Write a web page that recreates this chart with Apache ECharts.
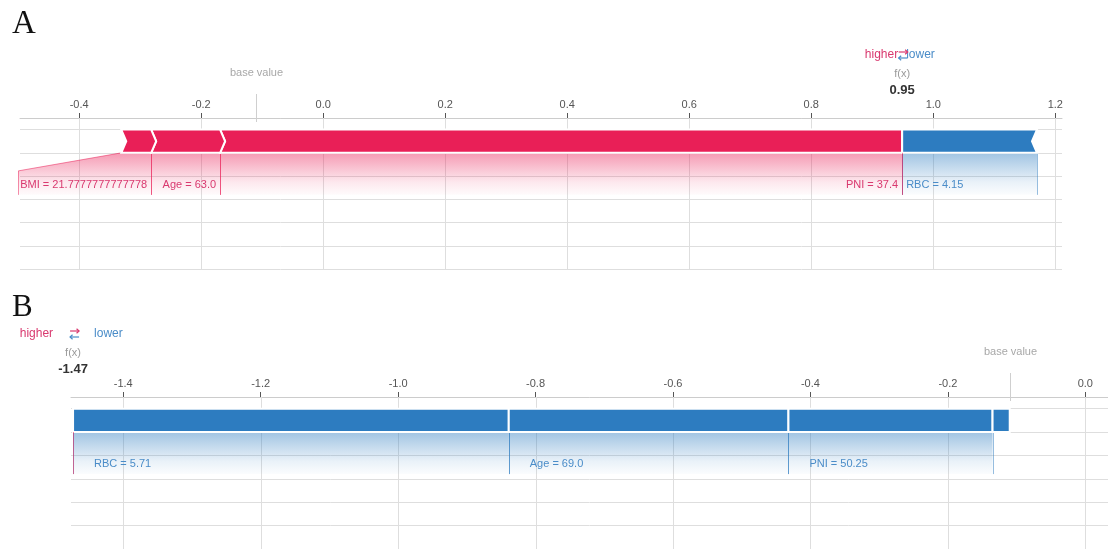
<!DOCTYPE html>
<html>
<head>
<meta charset="utf-8">
<script src="https://cdn.jsdelivr.net/npm/echarts@6/dist/echarts.min.js"></script>
<style>
  html, body { margin: 0; padding: 0; background: #fff; }
  #chart { width: 1108px; height: 549px; }
</style>
</head>
<body>
<div id="chart"></div>
<script>
// ---- Panel A: one patient, prediction pushed higher ----
const featuresA = ['BMI', 'Age', 'PNI', 'RBC'];
const featureValuesA = ['21.7777777777778', '63.0', '37.4', '4.15'];
const shapA = [0.049, 0.113, 1.118, -0.221];
const baseValueA = -0.11;
const ticksA = [-0.4, -0.2, 0.0, 0.2, 0.4, 0.6, 0.8, 1.0, 1.2];

// ---- Panel B: one patient, prediction pushed lower ----
const featuresB = ['RBC', 'Age', 'PNI', ''];
const featureValuesB = ['5.71', '69.0', '50.25', ''];
const shapB = [-0.634, -0.407, -0.297, -0.025];
const baseValueB = -0.11;
const ticksB = [-1.4, -1.2, -1.0, -0.8, -0.6, -0.4, -0.2, 0.0];

const RED = '#e91f57';
const BLUE = '#2d7cc0';
const RED_TXT = '#d9396f';
const BLUE_TXT = '#4a8cc8';
const SANS = '"Liberation Sans", Arial, Helvetica, sans-serif';
const SERIF = '"Liberation Serif", "Times New Roman", serif';
const GRID_LINE = '#dedede';

// row layout on the hidden y axis (0 = bottom of the panel)
const Y_MAX = 6.5;
const BAR_TOP = 6;
const BAR_BOT = 5;
// label area below the bar, in pixels from the bar's bottom edge
const SLANT = 18;
const LABEL_TEXT = 32;
const LABEL_DEPTH = 42;

const measureCtx = document.createElement('canvas').getContext('2d');
function measure(text) {
  measureCtx.font = '11px ' + SANS;
  return measureCtx.measureText(text).width;
}
function rgba(hex, a) {
  const n = parseInt(hex.slice(1), 16);
  return 'rgba(' + (n >> 16) + ',' + ((n >> 8) & 255) + ',' + (n & 255) + ',' + a + ')';
}
function crisp(v) { return Math.round(v) + 0.5; }

// Stack the contributions outward from f(x): positive ones to the left, negative ones to the right,
// largest magnitude closest to f(x).
function buildSegments(shap, base) {
  const fx = base + shap.reduce((s, v) => s + v, 0);
  const order = shap.map((_, i) => i);
  const pos = order.filter(i => shap[i] > 0).sort((a, b) => shap[b] - shap[a]);
  const neg = order.filter(i => shap[i] < 0).sort((a, b) => shap[a] - shap[b]);
  const data = [];
  let edge = fx;
  pos.forEach((i, k) => { data.push([edge - shap[i], edge, 1, i, k === 0 ? 1 : 0]); edge -= shap[i]; });
  edge = fx;
  neg.forEach((i, k) => { data.push([edge, edge - shap[i], -1, i, k === 0 ? 1 : 0]); edge -= shap[i]; });
  return { fx, data };
}

const panels = [
  {
    letter: 'A', letterSize: 33, letterY: 33,
    features: featuresA, values: featureValuesA, shap: shapA, base: baseValueA, ticks: ticksA,
    grid: { left: 20, top: 118, width: 1042, height: 151 },
    xMin: -0.497, xMax: 1.211,
    tip: 5, gap: 2, labelPad: 4,
    legend: { higherRight: -4, arrowX: 1, lowerLeft: 4 }
  },
  {
    letter: 'B', letterSize: 31, letterY: 315,
    features: featuresB, values: featureValuesB, shap: shapB, base: baseValueB, ticks: ticksB,
    grid: { left: 71, top: 397, width: 1037, height: 152 },
    xMin: -1.476, xMax: 0.033,
    tip: 0, gap: 2, labelPad: 21,
    legend: { higherRight: -20, arrowX: 1.5, lowerLeft: 21 }
  }
];

function segmentRenderer(p) {
  return function (params, api) {
    const x0 = api.value(0), x1 = api.value(1), sign = api.value(2), i = api.value(3), atFx = api.value(4);
    const top = api.coord([x0, BAR_TOP])[1];
    const bot = api.coord([x0, BAR_BOT])[1];
    const a = api.coord([x0, 0])[0];
    const b = api.coord([x1, 0])[0];
    const mid = (top + bot) / 2;
    const t = p.tip;
    const pts = sign > 0
      ? [[a, top], [b, top], [b + (atFx ? 0 : t), mid], [b, bot], [a, bot], [a + t, mid]]
      : [[a, top], [b, top], [b - t, mid], [b, bot], [a, bot], [a - (atFx ? 0 : t), mid]];
    const color = sign > 0 ? RED : BLUE;
    const children = [];
    const name = p.features[i];
    if (name) {
      const text = name + ' = ' + p.values[i];
      const w = measure(text);
      const lineEnd = bot + LABEL_DEPTH;
      const textY = bot + LABEL_TEXT;
      let region, lineA, lineB, tx, align;
      if (sign > 0) {
        tx = b - p.labelPad; align = 'right';
        const left = Math.min(a, tx - w - 2);
        const slantY = left < a - 0.5 ? bot + SLANT : bot;
        region = [[a, bot], [b, bot], [b, lineEnd], [left, lineEnd], [left, slantY]];
        lineA = [[a, bot], [crisp(left), slantY], [crisp(left), lineEnd]];
        lineB = [[crisp(b), bot], [crisp(b), lineEnd]];
      } else {
        tx = a + p.labelPad; align = 'left';
        const right = Math.max(b, tx + w + 2);
        const slantY = right > b + 0.5 ? bot + SLANT : bot;
        region = [[a, bot], [b, bot], [right, slantY], [right, lineEnd], [a, lineEnd]];
        lineA = [[crisp(a), bot], [crisp(a), lineEnd]];
        lineB = [[b, bot], [crisp(right), slantY], [crisp(right), lineEnd]];
      }
      children.push({
        type: 'polygon', z2: 1,
        shape: { points: region },
        style: {
          fill: new echarts.graphic.LinearGradient(0, 0, 0, 1, [
            { offset: 0, color: rgba(color, 0.45) },
            { offset: 0.7, color: rgba(color, 0.1) },
            { offset: 1, color: rgba(color, 0.02) }
          ])
        }
      });
      const lineStyle = { stroke: rgba(color, 0.5), lineWidth: 1, fill: null };
      children.push({ type: 'polyline', z2: 2, shape: { points: lineA }, style: lineStyle });
      children.push({ type: 'polyline', z2: 2, shape: { points: lineB }, style: lineStyle });
      children.push({
        type: 'text', z2: 3,
        style: {
          text: text, x: tx, y: textY, align: align, verticalAlign: 'middle',
          fill: sign > 0 ? RED_TXT : BLUE_TXT, fontSize: 11, fontFamily: SANS
        }
      });
    }
    children.push({
      type: 'polygon', z2: 5,
      shape: { points: pts },
      style: { fill: color, stroke: '#ffffff', lineWidth: p.gap, lineJoin: 'miter' }
    });
    return { type: 'group', children: children };
  };
}

// small "⇄" mark: red arrow to the right above, blue arrow to the left below
function swapArrows(cx, cy) {
  const h = 4.5;
  const ty = cy - 3, by = cy + 3;
  const red = { stroke: RED_TXT, lineWidth: 1.2, fill: null };
  const blue = { stroke: BLUE_TXT, lineWidth: 1.2, fill: null };
  return [
    { type: 'polyline', shape: { points: [[cx - h, ty], [cx + h, ty]] }, style: red },
    { type: 'polyline', shape: { points: [[cx + h - 2.5, ty - 2.2], [cx + h, ty], [cx + h - 2.5, ty + 2.2]] }, style: red },
    { type: 'polyline', shape: { points: [[cx - h, by], [cx + h, by]] }, style: blue },
    { type: 'polyline', shape: { points: [[cx - h + 2.5, by - 2.2], [cx - h, by], [cx - h + 2.5, by + 2.2]] }, style: blue }
  ];
}

function annotationRenderer(p) {
  return function (params, api) {
    const base = api.value(0), fx = api.value(1);
    const axisY = api.coord([base, Y_MAX])[1];
    const bot = api.coord([base, BAR_BOT])[1];
    const bx = crisp(api.coord([base, 0])[0]);
    const fxx = api.coord([fx, 0])[0];
    const lg = p.legend;
    const txt = (text, x, y, fill, size, align, weight) => ({
      type: 'text',
      style: {
        text: text, x: x, y: y, align: align || 'center', verticalAlign: 'middle',
        fill: fill, fontSize: size, fontFamily: SANS, fontWeight: weight || 'normal'
      }
    });
    return {
      type: 'group',
      children: [
        { type: 'line', shape: { x1: bx, y1: axisY - 24, x2: bx, y2: axisY + 4 }, style: { stroke: '#cfcfcf', lineWidth: 1 } },
        txt('base value', bx, axisY - 45, '#a8a8a8', 11),
        txt('f(x)', fxx, axisY - 44, '#9a9a9a', 11),
        txt(fx.toFixed(2), fxx, axisY - 28, '#333333', 13, 'center', 'bold'),
        txt('higher', fxx + lg.higherRight, axisY - 63, RED_TXT, 12, 'right'),
        txt('lower', fxx + lg.lowerLeft, axisY - 63, BLUE_TXT, 12, 'left')
      ].concat(swapArrows(fxx + lg.arrowX, axisY - 63)).concat([
        { type: 'line', shape: { x1: crisp(fxx), y1: bot, x2: crisp(fxx), y2: bot + LABEL_DEPTH }, style: { stroke: rgba(RED, 0.55), lineWidth: 1 } }
      ])
    };
  };
}

function gridLineRenderer(params, api) {
  const v = api.value(0);
  const p0 = api.coord([v, Y_MAX]);
  const p1 = api.coord([v, 0]);
  const x = crisp(p0[0]);
  return { type: 'line', shape: { x1: x, y1: p0[1], x2: x, y2: p1[1] }, style: { stroke: GRID_LINE, lineWidth: 1 } };
}

const option = {
  animation: false,
  backgroundColor: '#ffffff',
  grid: [], xAxis: [], yAxis: [], series: [],
  graphic: []
};

panels.forEach((p, k) => {
  const seg = buildSegments(p.shap, p.base);
  option.grid.push(Object.assign({ outerBoundsMode: 'none', containLabel: false }, p.grid));
  option.xAxis.push({
    type: 'value', gridIndex: k, position: 'top', min: p.xMin, max: p.xMax,
    axisLine: { show: true, onZero: false, lineStyle: { color: '#cccccc', width: 1 } },
    axisTick: { show: true, customValues: p.ticks, length: 5, inside: false, lineStyle: { color: '#555555' } },
    axisLabel: {
      show: true, customValues: p.ticks, margin: 8, color: '#555555', fontSize: 11, fontFamily: SANS,
      formatter: v => v.toFixed(1)
    },
    splitLine: { show: false }
  });
  option.yAxis.push({
    type: 'value', gridIndex: k, min: 0, max: Y_MAX, interval: 1,
    axisLine: { show: false }, axisTick: { show: false }, axisLabel: { show: false },
    splitLine: { show: true, lineStyle: { color: GRID_LINE, width: 1 } }
  });
  option.series.push({
    type: 'custom', name: 'grid' + p.letter, xAxisIndex: k, yAxisIndex: k, z: 1, clip: false, silent: true,
    data: p.ticks.map(v => [v]), renderItem: gridLineRenderer
  });
  option.series.push({
    type: 'custom', name: 'force' + p.letter, xAxisIndex: k, yAxisIndex: k, z: 3, clip: false, silent: true,
    data: seg.data, renderItem: segmentRenderer(p)
  });
  option.series.push({
    type: 'custom', name: 'notes' + p.letter, xAxisIndex: k, yAxisIndex: k, z: 4, clip: false, silent: true,
    data: [[p.base, seg.fx]], renderItem: annotationRenderer(p)
  });
  option.graphic.push({
    type: 'text', left: 12, top: p.letterY - p.letterSize * 0.9 + 5,
    style: { text: p.letter, fontSize: p.letterSize, fontFamily: SERIF, fill: '#111111' }
  });
});

const chart = echarts.init(document.getElementById('chart'), null, { renderer: 'canvas' });
chart.setOption(option);
</script>
</body>
</html>
